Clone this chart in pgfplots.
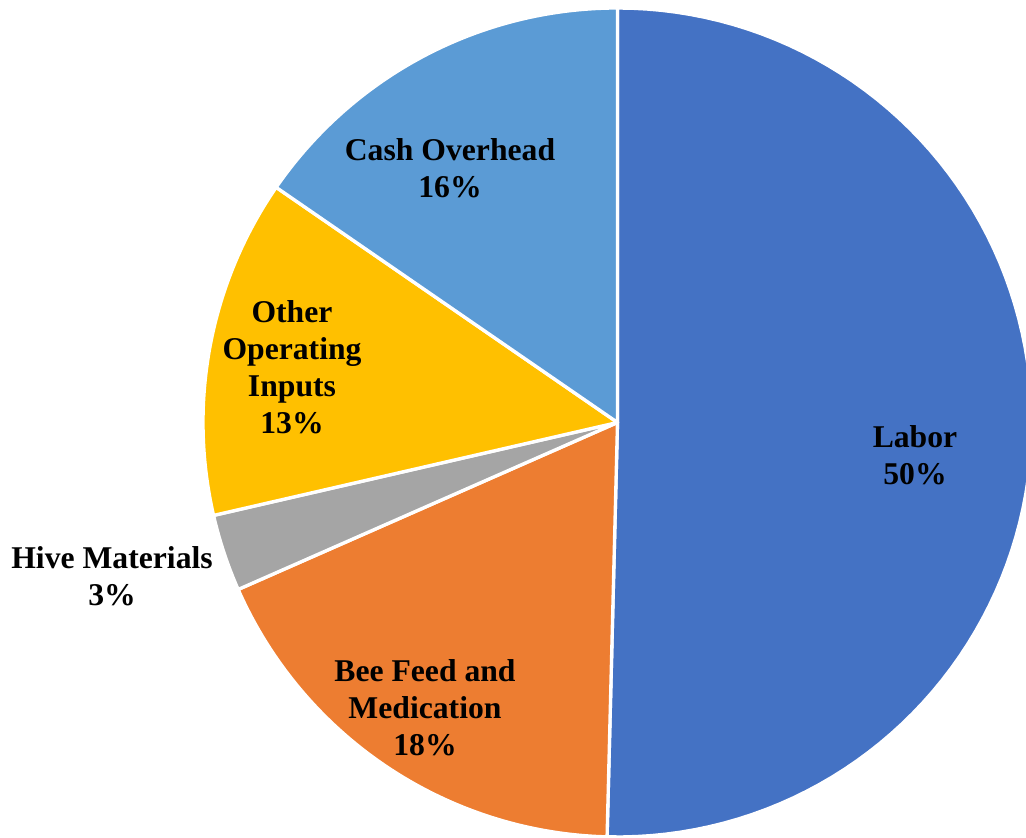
\documentclass[border=0pt]{standalone}
\usepackage{pgfplots}
\pgfplotsset{compat=1.18}
\usepackage{pgfplotstable}
\usepackage{fontspec}
\setmainfont{Liberation Serif}

\definecolor{cLabor}{HTML}{4472C4}
\definecolor{cFeed}{HTML}{ED7D31}
\definecolor{cHive}{HTML}{A5A5A5}
\definecolor{cOther}{HTML}{FFC000}
\definecolor{cCash}{HTML}{5B9BD5}

\tikzset{lbl/.style={font=\bfseries\fontsize{9.5}{11.1}\selectfont, align=center, inner sep=0pt}}

% shares of cost, clockwise from the top
\pgfplotstableread{
name value
Labor 50.4
Feed 18.0
Hive 3.0
Other 13.2
Cash 15.4
}\costs

\pgfplotstablegetelem{0}{value}\of\costs \let\vA\pgfplotsretval
\pgfplotstablegetelem{1}{value}\of\costs \let\vB\pgfplotsretval
\pgfplotstablegetelem{2}{value}\of\costs \let\vC\pgfplotsretval
\pgfplotstablegetelem{3}{value}\of\costs \let\vD\pgfplotsretval
\pgfplotstablegetelem{4}{value}\of\costs \let\vE\pgfplotsretval

\pgfmathsetmacro\aA{90}
\pgfmathsetmacro\aB{\aA-3.6*\vA}
\pgfmathsetmacro\aC{\aB-3.6*\vB}
\pgfmathsetmacro\aD{\aC-3.6*\vC}
\pgfmathsetmacro\aE{\aD-3.6*\vD}
\pgfmathsetmacro\aF{\aE-3.6*\vE}

\newcommand\cx{617.5}
\newcommand\cy{415.5}
\newcommand\rr{414.5}

\begin{document}
\begin{tikzpicture}
\begin{axis}[
    x=0.3pt, y=0.3pt,
    xmin=0, xmax=1026, ymin=0, ymax=838,
    enlargelimits=false,
    hide axis,
    samples=90,
    every axis plot/.append style={draw=white, line width=1pt, line join=round},
]
\addplot[fill=cLabor, domain=\aB:\aA] ({\cx+\rr*cos(x)},{\cy+\rr*sin(x)}) -- (axis cs:\cx,\cy) -- cycle;
\addplot[fill=cFeed, domain=\aC:\aB] ({\cx+\rr*cos(x)},{\cy+\rr*sin(x)}) -- (axis cs:\cx,\cy) -- cycle;
\addplot[fill=cHive, domain=\aD:\aC] ({\cx+\rr*cos(x)},{\cy+\rr*sin(x)}) -- (axis cs:\cx,\cy) -- cycle;
\addplot[fill=cOther, domain=\aE:\aD] ({\cx+\rr*cos(x)},{\cy+\rr*sin(x)}) -- (axis cs:\cx,\cy) -- cycle;
\addplot[fill=cCash, domain=\aF:\aE] ({\cx+\rr*cos(x)},{\cy+\rr*sin(x)}) -- (axis cs:\cx,\cy) -- cycle;

\node[lbl] at (axis cs:915,383) {Labor\\50\%};
\node[lbl] at (axis cs:425,130) {Bee Feed and\\Medication\\18\%};
\node[lbl] at (axis cs:112,262) {Hive Materials\\3\%};
\node[lbl] at (axis cs:292,471) {Other\\Operating\\Inputs\\13\%};
\node[lbl] at (axis cs:450,670) {Cash Overhead\\16\%};
\end{axis}
\pgfresetboundingbox
\useasboundingbox (current axis.south west) rectangle (current axis.north east);
\end{tikzpicture}
\end{document}
